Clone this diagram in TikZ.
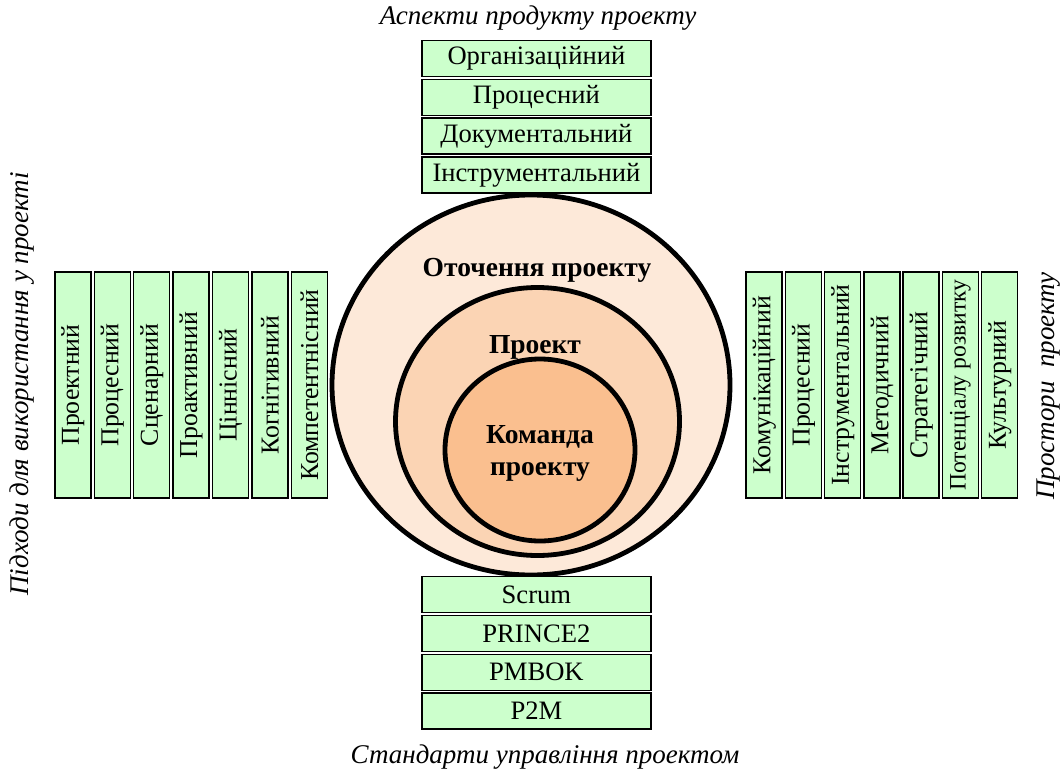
\documentclass[tikz,border=0pt]{standalone}
\usepackage{fontspec}
\setmainfont{Liberation Serif}
\usetikzlibrary{shapes.geometric}
\definecolor{boxgreen}{HTML}{CCFFCC}
\definecolor{envfill}{HTML}{FDE9D9}
\definecolor{projfill}{HTML}{FBD4B4}
\definecolor{teamfill}{HTML}{FABF8F}
\newcommand{\narrowtext}[1]{{\fontsize{23.6}{30}\selectfont #1}}
\begin{document}
\begin{tikzpicture}[x=1pt,y=-1pt,
  item/.style={draw=black, line width=1.5pt, fill=boxgreen, inner sep=0pt},
  hitem/.style={item, minimum width=229pt, minimum height=36pt,
    font=\fontsize{26.6}{30}\selectfont},
  vitem/.style={item, rotate=90, minimum width=226pt, minimum height=36pt,
    font=\fontsize{25.8}{30}\selectfont},
  ring/.style={draw=black, line width=4.8pt, ellipse, inner sep=0pt},
  heading/.style={font=\fontsize{27}{30}\selectfont\itshape},
  ringlabel/.style={font=\fontsize{27.5}{31}\selectfont\bfseries, align=center}]
\useasboundingbox (0,0) rectangle (1063,774);

% nested circles: environment, project, team
\node[ring, fill=envfill, minimum width=398pt, minimum height=380pt] (env) at (531,385) {};
\node[ring, fill=projfill, minimum width=284pt, minimum height=268pt] (proj) at (537.5,421.5) {};
\node[ring, fill=teamfill, minimum width=190pt, minimum height=182pt] (team) at (540,450) {};
\node[ringlabel] (envlbl) at (537,270) {Оточення проекту};
\node[ringlabel] (projlbl) at (535,347) {Проект};
\node[ringlabel] (teamlbl) at (540,453) {Команда\\[1pt]проекту};

% product aspects (top)
\node[heading] (toptitle) at (538,18) {Аспекти продукту проекту};
\foreach \t [count=\i] in {Організаційний, Процесний, Документальний, Інструментальний}
  \node[hitem] (top\i) at (536.4,{58.7+38.7*(\i-1)}) {\t};

% management standards (bottom)
\foreach \t [count=\i] in {Scrum, PRINCE2, PMBOK, P2M}
  \node[hitem] (bot\i) at (536.4,{594.7+38.8*(\i-1)}) {\t};
\node[heading] (bottitle) at (545,757) {Стандарти управління проектом};

% approaches (left)
\node[heading, rotate=90] (lefttitle) at (22,384) {Підходи для використання у проекті};
\foreach \t [count=\i] in {Проектний, Процесний, Сценарний, Проактивний, Ціннісний, Когнітивний, Компетентнісний}
  \node[vitem] (left\i) at ({72.9+39.4*(\i-1)},385) {\t};

% project spaces (right)
\foreach \t [count=\i] in {Комунікаційний, Процесний, Інструментальний, Методичний, Стратегічний, \narrowtext{Потенціалу розвитку}, Культурний}
  \node[vitem] (right\i) at ({764.2+39.25*(\i-1)},385) {\t};
\node[heading, rotate=90] (righttitle) at (1049,386) {Простори~~проекту};
\end{tikzpicture}
\end{document}
